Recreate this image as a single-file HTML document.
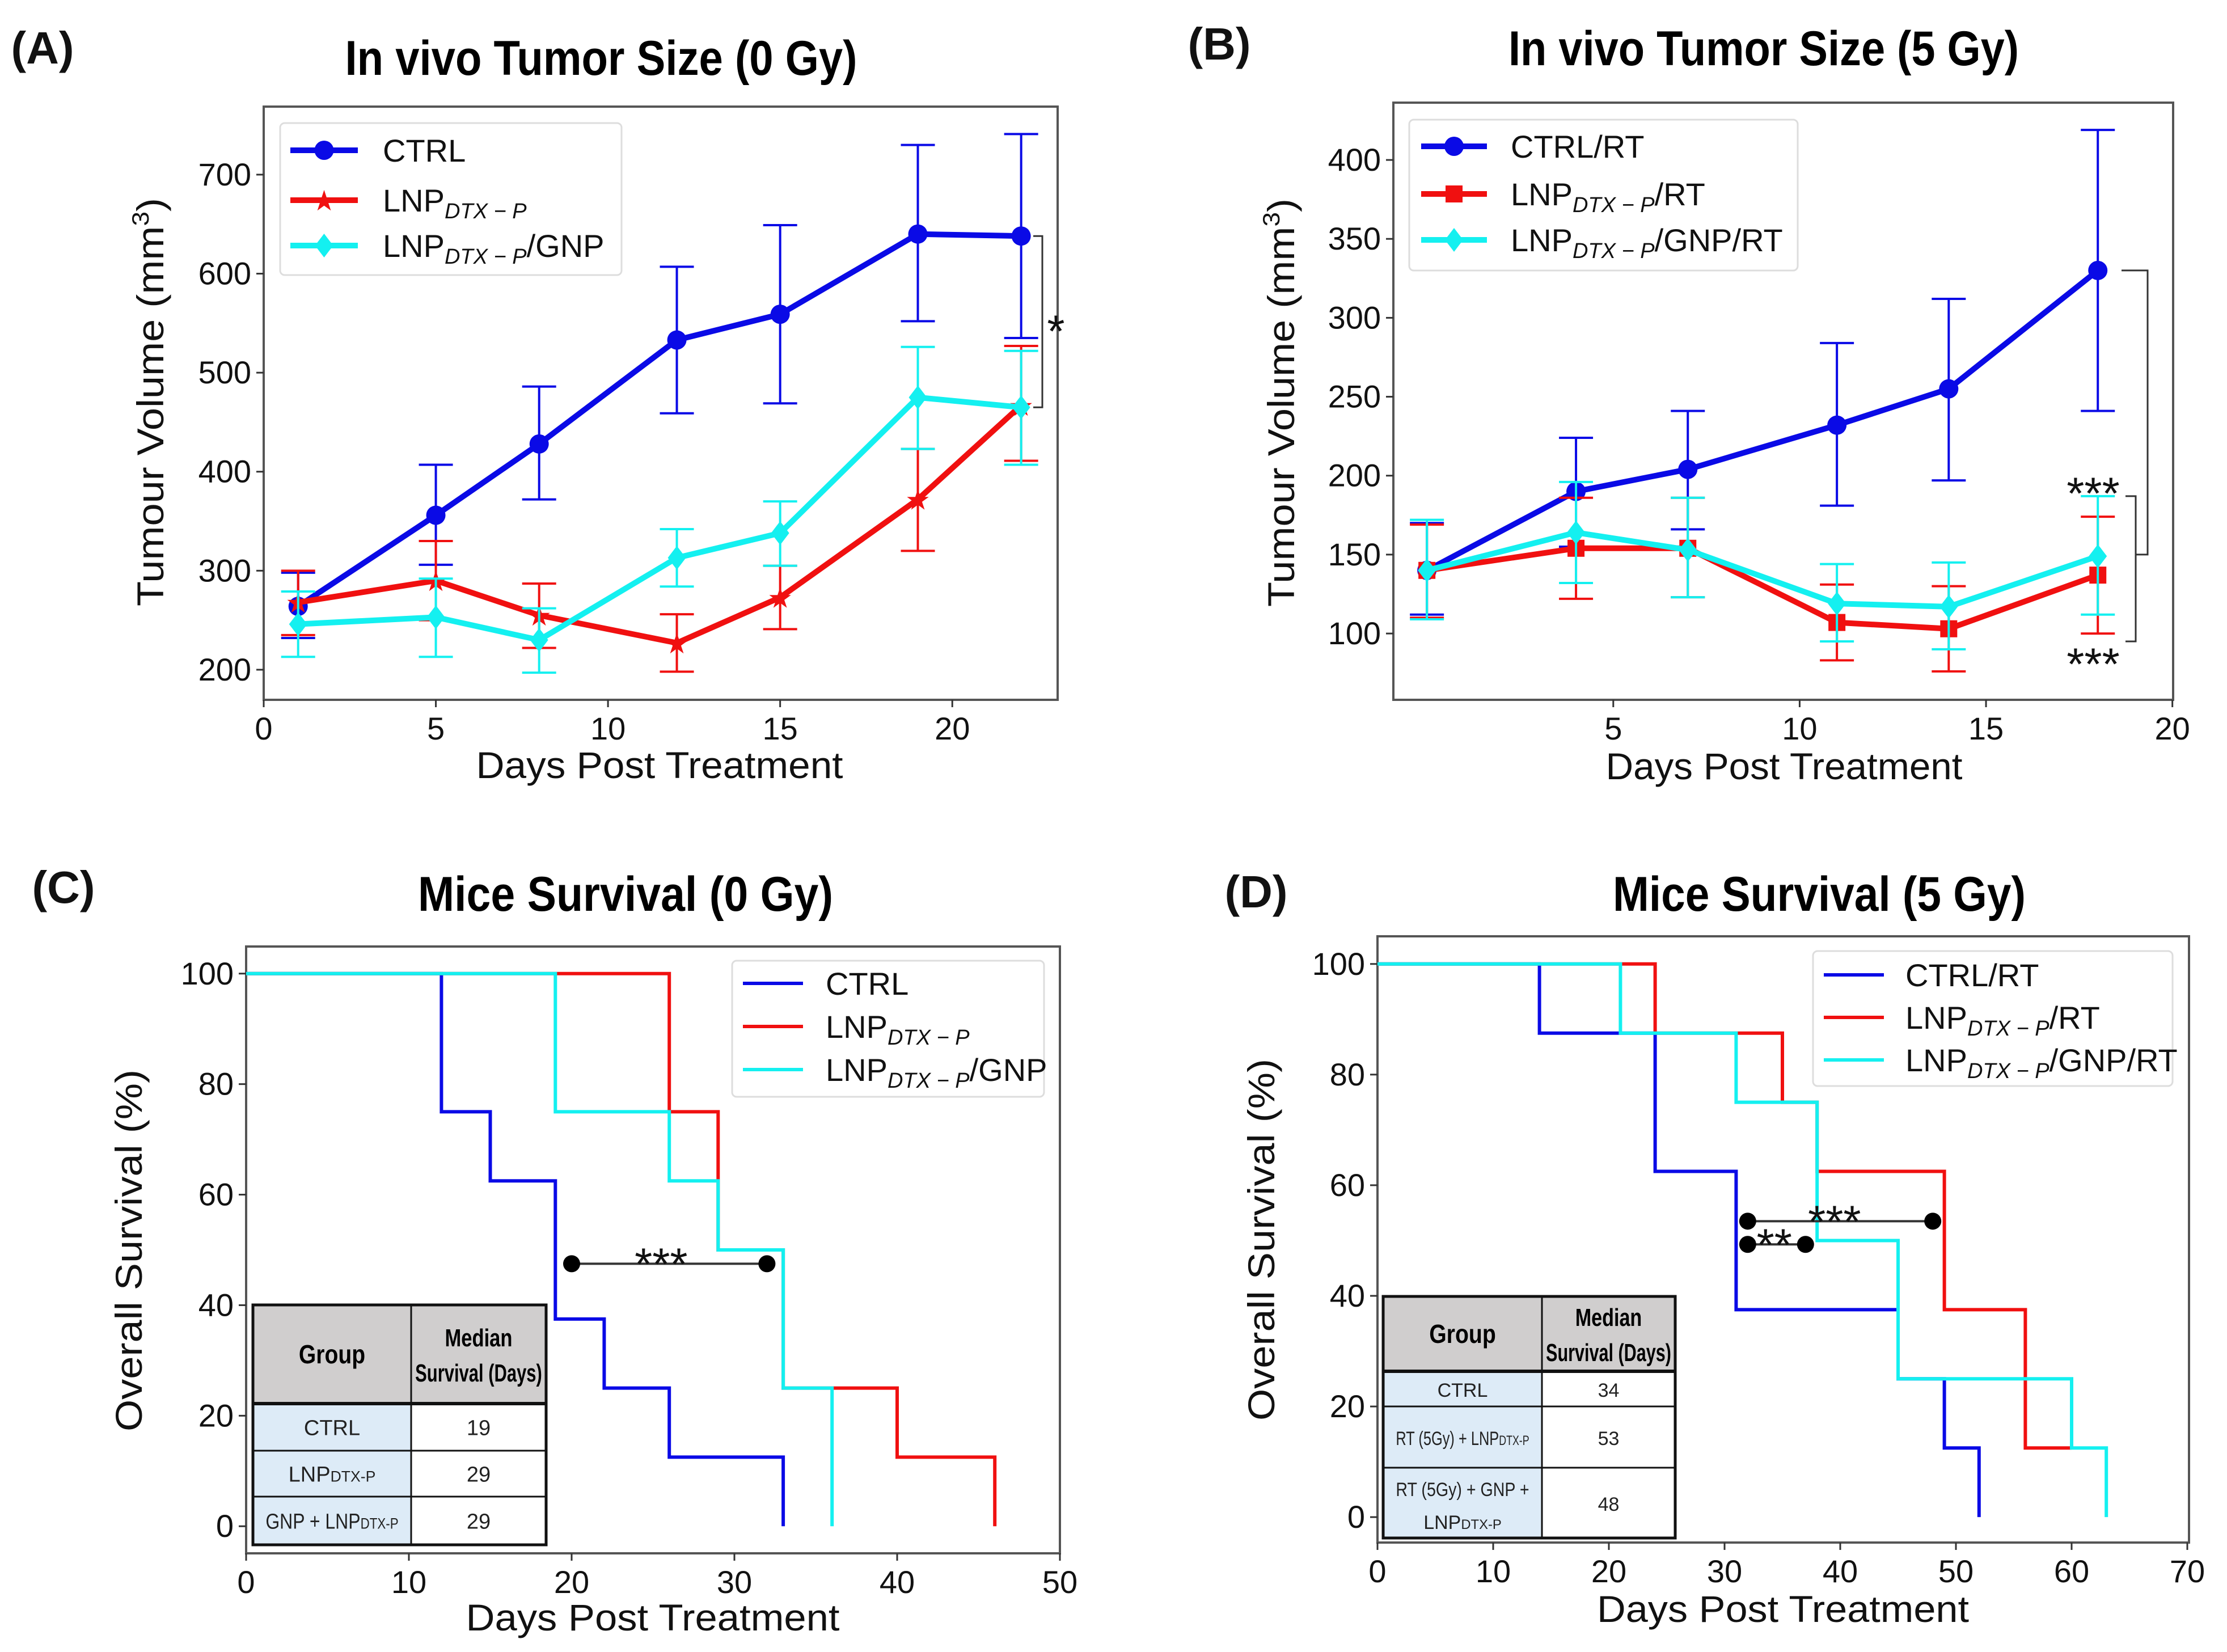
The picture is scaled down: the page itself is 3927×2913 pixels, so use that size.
<!DOCTYPE html>
<html><head><meta charset="utf-8"><style>
html,body{margin:0;padding:0;background:#fff}
svg{display:block}
text{font-family:"Liberation Sans",sans-serif}
</style></head><body>
<svg id="fig" width="3927" height="2913" viewBox="0 0 3927 2913" xmlns="http://www.w3.org/2000/svg"></svg>
<script>
// ---------- Panel A data ----------
const daysA = [1,5,8,12,15,19,22];
const ctrlA = [264,356,428,533,559,640,638];
const ctrlALo = [232,306,372,459,469,552,535];
const ctrlAHi = [298,407,486,607,649,730,741];
const lnpA = [268,290,255,227,273,372,467];
const lnpALo = [235,250,222,198,241,320,411];
const lnpAHi = [300,330,287,256,305,423,527];
const gnpA = [246,253,230,313,338,475,465];
const gnpALo = [213,213,197,284,305,423,407];
const gnpAHi = [279,292,262,342,370,526,522];
// ---------- Panel B data ----------
const daysB = [0,4,7,11,14,18];
const ctrlB = [140,190,204,232,255,330];
const ctrlBLo = [112,155,166,181,197,241];
const ctrlBHi = [170,224,241,284,312,419];
const lnpB = [140,154,154,107,103,137];
const lnpBLo = [110,122,123,83,76,100];
const lnpBHi = [169,186,186,131,130,174];
const gnpB = [140,164,153,119,117,149];
const gnpBLo = [109,132,123,95,90,112];
const gnpBHi = [172,196,186,144,145,187];
// ---------- Panel C data (step survival) ----------
const ctrlCT = [0,12,15,19,22,26,33];
const ctrlCS = [100,75,62.5,37.5,25,12.5,0];
const lnpCT = [0,26,29,33,40,46];
const lnpCS = [100,75,50,25,12.5,0];
const gnpCT = [0,19,26,29,33,36];
const gnpCS = [100,75,62.5,50,25,0];
// ---------- Panel D data ----------
const ctrlDT = [0,14,24,31,45,49,52];
const ctrlDS = [100,87.5,62.5,37.5,25,12.5,0];
const lnpDT = [0,24,35,38,49,56,60];
const lnpDS = [100,87.5,75,62.5,37.5,12.5,12.5];
const gnpDT = [0,21,31,38,45,60,63];
const gnpDS = [100,87.5,75,50,25,12.5,0];
// tick labels
const ticksAX = [0,5,10,15,20];
const ticksAY = [200,300,400,500,600,700];
const ticksBX = [5,10,15,20];
const ticksBY = [100,150,200,250,300,350,400];
const ticksCX = [0,10,20,30,40,50];
const ticksDX = [0,10,20,30,40,50,60,70];
const ticksSY = [0,20,40,60,80,100];

const NS="http://www.w3.org/2000/svg";
const svg=document.getElementById('fig');
function mk(tag,attrs,parent,txt){const e=document.createElementNS(NS,tag);for(const k in attrs)e.setAttribute(k,attrs[k]);if(txt!==undefined)e.textContent=txt;(parent||svg).appendChild(e);return e;}
function scale(d0,d1,p0,p1){return v=>p0+(v-d0)/(d1-d0)*(p1-p0);}

function axes(g,box,sx,sy,tx,ty,fs){
  const r=mk('rect',{x:box.x0,y:box.y0,width:box.x1-box.x0,height:box.y1-box.y0,fill:'none',stroke:'#555',"stroke-width":4},g);
  
  
  tx.forEach(v=>{const x=sx(v);
    mk('line',{x1:x,x2:x,y1:box.y1,y2:box.y1+13,stroke:'#333',"stroke-width":3},g);
    const t=mk('text',{x:x,y:box.y1+70,"font-size":fs,"text-anchor":"middle",fill:'#111'},g,String(v));
    
    });
  ty.forEach(v=>{const y=sy(v);
    mk('line',{x1:box.x0-13,x2:box.x0,y1:y,y2:y,stroke:'#333',"stroke-width":3},g);
    const t=mk('text',{x:box.x0-22,y:y+19,"font-size":fs,"text-anchor":"end",fill:'#111'},g,String(v));
    
    });
}
function marker(g,type,x,y,c){
  if(type==='o') return mk('circle',{cx:x,cy:y,r:17,fill:c},g);
  if(type==='s') return mk('rect',{x:x-15,y:y-15,width:30,height:30,fill:c},g);
  if(type==='d') return mk('polygon',{points:`${x},${y-21} ${x+16},${y} ${x},${y+21} ${x-16},${y}`,fill:c},g);
  if(type==='*') return mk('text',{x:x,y:y+18,"font-size":50,"text-anchor":"middle",fill:c},g,'★');
}
function errSeries(g,name,sx,sy,xs,ys,lo,hi,c,m){
  const sg=mk('g',{},g);
  
  
  xs.forEach((d,i)=>{const x=sx(d);
    mk('line',{x1:x,x2:x,y1:sy(lo[i]),y2:sy(hi[i]),stroke:c,"stroke-width":4},sg);
    mk('line',{x1:x-30,x2:x+30,y1:sy(lo[i]),y2:sy(lo[i]),stroke:c,"stroke-width":4},sg);
    mk('line',{x1:x-30,x2:x+30,y1:sy(hi[i]),y2:sy(hi[i]),stroke:c,"stroke-width":4},sg);});
  mk('polyline',{points:xs.map((d,i)=>sx(d)+','+sy(ys[i])).join(' '),fill:'none',stroke:c,"stroke-width":10,"stroke-linejoin":"round"},sg);
  xs.forEach((d,i)=>{marker(sg,m,sx(d),sy(ys[i]),c);});
}
function stepSeries(g,name,sx,sy,ts,ss,c){
  let pts=[];
  for(let i=0;i<ts.length;i++){
    if(i>0) pts.push(sx(ts[i])+','+sy(ss[i-1]));
    pts.push(sx(ts[i])+','+sy(ss[i]));
  }
  const p=mk('polyline',{points:pts.join(' '),fill:'none',stroke:c,"stroke-width":6},g);
  
  
}
function legend(g,lx,ly,w,h,items,lineX0,lineX1,textX,ys,withMarkers){
  const lg=mk('g',{},g);
  
  
  mk('rect',{x:lx,y:ly,width:w,height:h,rx:8,fill:'#fff',stroke:'#ddd',"stroke-width":3},lg);
  items.forEach((it,i)=>{
    const e=mk('g',{},lg);
    
    
    mk('line',{x1:lineX0,x2:lineX1,y1:ys[i],y2:ys[i],stroke:it.c,"stroke-width":withMarkers?10:6},e);
    if(withMarkers) marker(e,it.m,(lineX0+lineX1)/2,ys[i],it.c);
    const t=mk('text',{x:textX,y:ys[i]+20,"font-size":56,fill:'#111'},e);
    it.parts.forEach(p=>{mk('tspan',p.sub?{"font-size":38,"font-style":"italic",dy:12}:{dy:p.up?-12:0},t,p.t);});
  });
}
function label(txt,x,y,fs,name,opts){
  const a=Object.assign({x:x,y:y,"font-size":fs,"text-anchor":"middle",fill:'#111'},opts||{});
  const t=mk('text',a,svg,txt);
  
  
  return t;
}
function ylabel(txt,x,y,len,name,sup){
  const t=mk('text',{x:0,y:0,"font-size":66,"text-anchor":"middle",fill:'#111',transform:`translate(${x},${y}) rotate(-90)`,textLength:len,lengthAdjust:"spacingAndGlyphs"},svg,txt);
  if(sup) mk('tspan',{"font-size":42,dy:-26},t,sup);
  if(sup) mk('tspan',{"font-size":66,dy:26},t,')');
  
  
}
function bold(txt,x,y,len,name){
  const t=mk('text',{x:x,y:y,"font-size":86,"font-weight":"bold","text-anchor":"middle",fill:'#000',textLength:len,lengthAdjust:"spacingAndGlyphs"},svg,txt);
  
  
}
const LNP=(suf)=>[{t:'LNP'},{t:'DTX − P',sub:true},{t:suf,up:true}];
function stars(g,x,y,txt){
  return mk('text',{x:x,y:y,"font-size":80,"text-anchor":"middle",fill:'#111',"font-family":"DejaVu Sans, sans-serif"},g,txt);
}

// ======== Panel A ========
(function(){
  const g=mk('g',{});
  const box={x0:465,x1:1865,y0:188,y1:1234};
  const sx=scale(0,23.06,box.x0,box.x1), sy=scale(169.6,768.7,box.y1,box.y0);
  axes(g,box,sx,sy,ticksAX,ticksAY,56);
  errSeries(g,'ctrl-series',sx,sy,daysA,ctrlA,ctrlALo,ctrlAHi,'#0a0ae6','o');
  errSeries(g,'lnp-series',sx,sy,daysA,lnpA,lnpALo,lnpAHi,'#f01010','*');
  errSeries(g,'lnp-gnp-series',sx,sy,daysA,gnpA,gnpALo,gnpAHi,'#14f0f0','d');
  const bx=1838;
  mk('polyline',{points:`1822,${sy(638)} ${bx},${sy(638)} ${bx},${sy(465)} 1822,${sy(465)}`,fill:'none',stroke:'#333',"stroke-width":3},g);
  stars(g,1862,sy(549)+40,'*');
  legend(g,494,217,602,268,[{c:'#0a0ae6',m:'o',parts:[{t:'CTRL'}]},{c:'#f01010',m:'*',parts:LNP('')},{c:'#14f0f0',m:'d',parts:LNP('/GNP')}],512,631,675,[265,353,433],true);
})();
label('(A)',75,112,80,'panel-a-label',{"font-weight":"bold"});
bold('In vivo Tumor Size (0 Gy)',1060,132,903,'panel-a-title');
label('Days Post Treatment',1163,1372,66,'panel-a-x-title',{textLength:647,lengthAdjust:"spacingAndGlyphs"});
ylabel('Tumour Volume (mm',288,709,720,'panel-a-y-title','3');

// ======== Panel B ========
(function(){
  const g=mk('g',{});
  const box={x0:2457,x1:3832,y0:181,y1:1234};
  const sx=scale(-0.9,20.02,box.x0,box.x1), sy=scale(58.0,436.3,box.y1,box.y0);
  axes(g,box,sx,sy,ticksBX,ticksBY,56);
  errSeries(g,'ctrl-rt-series',sx,sy,daysB,ctrlB,ctrlBLo,ctrlBHi,'#0a0ae6','o');
  errSeries(g,'lnp-rt-series',sx,sy,daysB,lnpB,lnpBLo,lnpBHi,'#f01010','s');
  errSeries(g,'lnp-gnp-rt-series',sx,sy,daysB,gnpB,gnpBLo,gnpBHi,'#14f0f0','d');
  mk('polyline',{points:`3741,${sy(330)} 3787,${sy(330)} 3787,${sy(150)} 3765,${sy(150)}`,fill:'none',stroke:'#333',"stroke-width":3},g);
  mk('polyline',{points:`3748,${sy(187)} 3766,${sy(187)} 3766,${sy(95)} 3748,${sy(95)}`,fill:'none',stroke:'#333',"stroke-width":3},g);
  stars(g,3691,sy(195)+45,'***');
  stars(g,3691,sy(87)+45,'***');
  legend(g,2485,211,685,266,[{c:'#0a0ae6',m:'o',parts:[{t:'CTRL/RT'}]},{c:'#f01010',m:'s',parts:LNP('/RT')},{c:'#14f0f0',m:'d',parts:LNP('/GNP/RT')}],2506,2622,2664,[258,342,423],true);
})();
label('(B)',2150,105,80,'panel-b-label',{"font-weight":"bold"});
bold('In vivo Tumor Size (5 Gy)',3110,115,900,'panel-b-title');
label('Days Post Treatment',3146,1374,66,'panel-b-x-title',{textLength:629,lengthAdjust:"spacingAndGlyphs"});
ylabel('Tumour Volume (mm',2282,710,720,'panel-b-y-title','3');

function cellText(tg,x,y,fs,str,maxW){
  const t=mk('text',{x:x,y:y,"font-size":fs,"text-anchor":"middle",fill:'#222'},tg);
  const parts=str.split('DTX-P');
  parts.forEach((p,i)=>{
    if(p) mk('tspan',{},t,p);
    if(i<parts.length-1) mk('tspan',{"font-size":fs*0.7},t,'DTX-P');
  });
  const est=str.length*fs*0.5;
  if(maxW && est>maxW){t.setAttribute('textLength',maxW);t.setAttribute('lengthAdjust','spacingAndGlyphs');}
  return t;
}
function table(g,x0,x1,xs,rows,header,lefts,rights,fsz){
  const tg=mk('g',{},g);
  
  
  mk('rect',{x:x0,y:rows[0],width:x1-x0,height:rows[1]-rows[0],fill:'#d0cece'},tg);
  for(let i=1;i<rows.length-1;i++){
    mk('rect',{x:x0,y:rows[i],width:xs-x0,height:rows[i+1]-rows[i],fill:'#ddebf7'},tg);
    mk('rect',{x:xs,y:rows[i],width:x1-xs,height:rows[i+1]-rows[i],fill:'#fff'},tg);
  }
  mk('rect',{x:x0,y:rows[0],width:x1-x0,height:rows[rows.length-1]-rows[0],fill:'none',stroke:'#111',"stroke-width":5},tg);
  mk('line',{x1:xs,x2:xs,y1:rows[0],y2:rows[rows.length-1],stroke:'#111',"stroke-width":3},tg);
  rows.slice(1,-1).forEach((y,i)=>mk('line',{x1:x0,x2:x1,y1:y,y2:y,stroke:'#111',"stroke-width":i===0?6:3},tg));
  const cl=(x0+xs)/2, cr=(xs+x1)/2;
  mk('text',{x:cl,y:(rows[0]+rows[1])/2+16,"font-size":46,"font-weight":"bold","text-anchor":"middle",textLength:(xs-x0)*0.42,lengthAdjust:"spacingAndGlyphs"},tg,header[0]);
  mk('text',{x:cr,y:(rows[0]+rows[1])/2-14,"font-size":44,"font-weight":"bold","text-anchor":"middle",textLength:(x1-xs)*0.5,lengthAdjust:"spacingAndGlyphs"},tg,'Median');
  mk('text',{x:cr,y:(rows[0]+rows[1])/2+48,"font-size":44,"font-weight":"bold","text-anchor":"middle",textLength:(x1-xs)*0.94,lengthAdjust:"spacingAndGlyphs"},tg,'Survival (Days)');
  const maxW=(xs-x0)*0.84;
  for(let i=1;i<rows.length-1;i++){
    const cy=(rows[i]+rows[i+1])/2;
    const L=lefts[i-1];
    if(Array.isArray(L)){
      cellText(tg,cl,cy-12,fsz,L[0],maxW);
      cellText(tg,cl,cy+46,fsz,L[1],maxW);
    } else cellText(tg,cl,cy+14,fsz,L,maxW);
    mk('text',{x:cr,y:cy+14,"font-size":fsz,"text-anchor":"middle",fill:'#222'},tg,rights[i-1]);
  }
}
function sig(g,sx,sy,a,b,v,txt,tx){
  const sg=mk('g',{},g);
  
  
  mk('line',{x1:sx(a),x2:sx(b),y1:sy(v),y2:sy(v),stroke:'#333',"stroke-width":4},sg);
  mk('circle',{cx:sx(a),cy:sy(v),r:15,fill:'#000'},sg);
  mk('circle',{cx:sx(b),cy:sy(v),r:15,fill:'#000'},sg);
  stars(sg,tx,sy(v)+28,txt);
}

// ======== Panel C ========
(function(){
  const g=mk('g',{});
  const box={x0:434,x1:1869,y0:1669,y1:2739};
  const sx=scale(0,50,box.x0,box.x1), sy=scale(-4.9,104.9,box.y1,box.y0);
  axes(g,box,sx,sy,ticksCX,ticksSY,56);
  stepSeries(g,'ctrl-survival',sx,sy,ctrlCT,ctrlCS,'#0a0ae6');
  stepSeries(g,'lnp-survival',sx,sy,lnpCT,lnpCS,'#f01010');
  stepSeries(g,'lnp-gnp-survival',sx,sy,gnpCT,gnpCS,'#14f0f0');
  sig(g,sx,sy,20,32,47.5,'***',sx(25.5));
  table(g,446,963,725,[2301,2475,2558,2639,2724],['Group'],['CTRL','LNPDTX-P','GNP + LNPDTX-P'],['19','29','29'],38);
  legend(g,1291,1694,550,240,[{c:'#0a0ae6',parts:[{t:'CTRL'}]},{c:'#f01010',parts:LNP('')},{c:'#14f0f0',parts:LNP('/GNP')}],1310,1416,1456,[1734,1810,1886],false);
})();
label('(C)',112,1592,80,'panel-c-label',{"font-weight":"bold"});
bold('Mice Survival (0 Gy)',1103,1606,732,'panel-c-title');
label('Days Post Treatment',1151,2875,66,'panel-c-x-title',{textLength:659,lengthAdjust:"spacingAndGlyphs"});
ylabel('Overall Survival (%)',250,2205,638,'panel-c-y-title');

// ======== Panel D ========
(function(){
  const g=mk('g',{});
  const box={x0:2429,x1:3860,y0:1651,y1:2720};
  const sx=scale(0,70,box.x0,3857), sy=scale(-4.6,105,box.y1,box.y0);
  axes(g,box,sx,sy,ticksDX,ticksSY,56);
  stepSeries(g,'ctrl-rt-survival',sx,sy,ctrlDT,ctrlDS,'#0a0ae6');
  stepSeries(g,'lnp-rt-survival',sx,sy,lnpDT,lnpDS,'#f01010');
  stepSeries(g,'lnp-gnp-rt-survival',sx,sy,gnpDT,gnpDS,'#14f0f0');
  sig(g,sx,sy,32,48,53.5,'***',sx(39.5));
  sig(g,sx,sy,32,37,49.3,'**',sx(34.3));
  table(g,2439,2954,2719,[2286,2418,2480,2588,2712],['Group'],['CTRL','RT (5Gy) + LNPDTX-P',['RT (5Gy) + GNP +','LNPDTX-P']],['34','53','48'],34);
  legend(g,3197,1677,634,238,[{c:'#0a0ae6',parts:[{t:'CTRL/RT'}]},{c:'#f01010',parts:LNP('/RT')},{c:'#14f0f0',parts:LNP('/GNP/RT')}],3216,3322,3360,[1719,1794,1869],false);
})();
label('(D)',2215,1600,80,'panel-d-label',{"font-weight":"bold"});
bold('Mice Survival (5 Gy)',3208,1606,728,'panel-d-title');
label('Days Post Treatment',3144,2860,66,'panel-d-x-title',{textLength:656,lengthAdjust:"spacingAndGlyphs"});
ylabel('Overall Survival (%)',2247,2186,638,'panel-d-y-title');
</script>
</body></html>
